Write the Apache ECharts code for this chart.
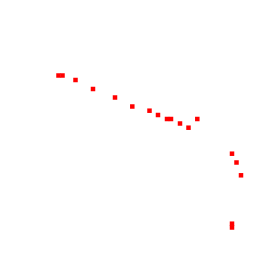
<!DOCTYPE html>
<html><head><meta charset="utf-8">
<script src="https://cdn.jsdelivr.net/npm/echarts@6/dist/echarts.min.js"></script>
<style>html,body{margin:0;padding:0;background:#fff}#c{width:256px;height:256px}</style>
</head><body><div id="c"></div>
<script>
const xValues = [58.5, 62.5, 75.5, 93, 115, 132.3, 149.5, 158, 167, 171, 180, 188.5, 197.3, 232, 236.5, 241, 232, 232];
const yValues = [180.5, 180.5, 176, 167, 158.5, 149.5, 145.3, 141, 137, 137, 132.5, 128.3, 137, 102.3, 93.5, 80.7, 32.3, 28.5];
const points = xValues.map((x, i) => [x, yValues[i]]);
const chart = echarts.init(document.getElementById('c'), null, {renderer: 'canvas'});
chart.setOption({
  animation: false,
  backgroundColor: '#ffffff',
  grid: {left: 0, right: 0, top: 0, bottom: 0},
  xAxis: {type: 'value', min: 0, max: 256, show: false},
  yAxis: {type: 'value', min: 0, max: 256, show: false},
  series: [{
    type: 'scatter',
    symbol: 'rect',
    symbolSize: 4.5,
    itemStyle: {color: '#ff0000', opacity: 1},
    data: points
  }]
});
</script></body></html>
